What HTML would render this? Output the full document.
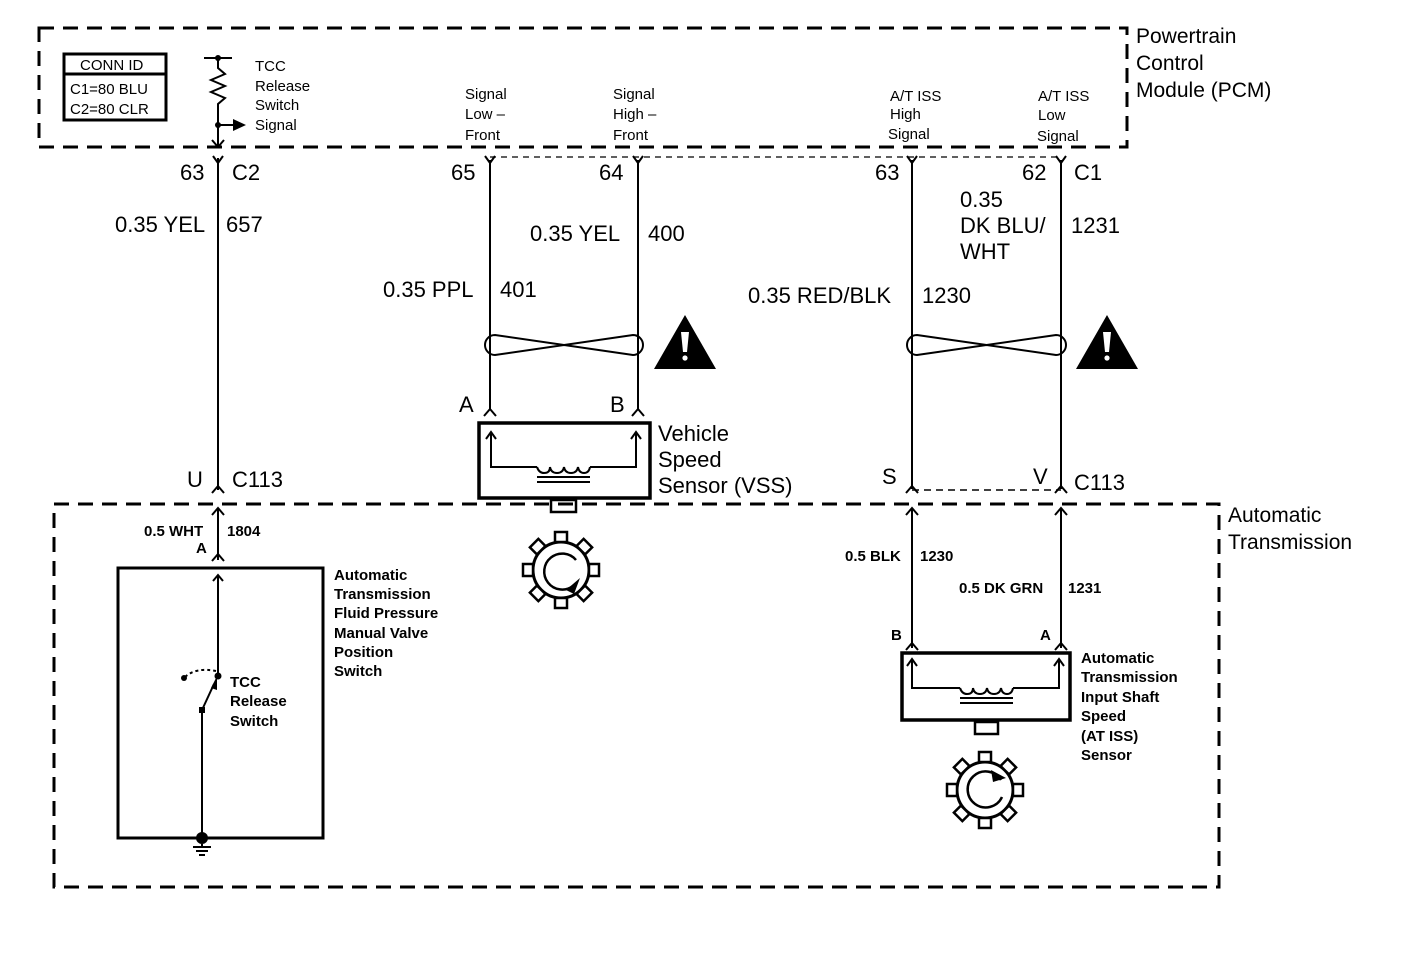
<!DOCTYPE html>
<html><head><meta charset="utf-8"><style>
html,body{margin:0;padding:0;background:#fff;}
svg{display:block;}
text{font-family:"Liberation Sans",Arial,sans-serif;fill:#000;}
.b{font-size:22px;}
.s{font-size:15px;}
.sb{font-size:15px;font-weight:bold;}
</style></head><body>
<svg width="1408" height="970" viewBox="0 0 1408 970" xmlns="http://www.w3.org/2000/svg">
<defs>
<g id="gear">
  <circle cx="0" cy="0" r="28" fill="none" stroke="#000" stroke-width="3"/>
  <g fill="#fff" stroke="#000" stroke-width="2.5">
    <rect x="-6" y="-38" width="12" height="10" transform="rotate(0)"/>
    <rect x="-6" y="-38" width="12" height="10" transform="rotate(45)"/>
    <rect x="-6" y="-38" width="12" height="10" transform="rotate(90)"/>
    <rect x="-6" y="-38" width="12" height="10" transform="rotate(135)"/>
    <rect x="-6" y="-38" width="12" height="10" transform="rotate(180)"/>
    <rect x="-6" y="-38" width="12" height="10" transform="rotate(225)"/>
    <rect x="-6" y="-38" width="12" height="10" transform="rotate(270)"/>
    <rect x="-6" y="-38" width="12" height="10" transform="rotate(315)"/>
  </g>
</g>
</defs>

<!-- PCM dashed box -->
<rect x="39" y="28" width="1088" height="119" fill="none" stroke="#000" stroke-width="3" stroke-dasharray="15,9"/>
<text class="b" x="1136" y="43" style="font-size:21px">Powertrain</text>
<text class="b" x="1136" y="70" style="font-size:21px">Control</text>
<text class="b" x="1136" y="97" style="font-size:21px">Module (PCM)</text>

<!-- Conn ID -->
<rect x="64" y="54" width="102" height="66" fill="none" stroke="#000" stroke-width="3"/>
<line x1="64" y1="74" x2="166" y2="74" stroke="#000" stroke-width="3"/>
<text class="s" x="80" y="70">CONN ID</text>
<text class="s" x="70" y="94">C1=80 BLU</text>
<text class="s" x="70" y="114">C2=80 CLR</text>

<!-- TCC resistor -->
<line x1="204" y1="58" x2="232" y2="58" stroke="#000" stroke-width="2"/>
<circle cx="218" cy="58" r="3"/>
<polyline points="218,58 218,68 225,74 211,80 225,86 211,92 225,98 218,104 218,146" fill="none" stroke="#000" stroke-width="2"/>
<circle cx="218" cy="125" r="3"/>
<line x1="218" y1="125" x2="235" y2="125" stroke="#000" stroke-width="2"/>
<polygon points="233,119 246,125 233,131"/>
<polyline points="212,140 218,147 224,140" fill="none" stroke="#000" stroke-width="2"/>
<text class="s" x="255" y="71">TCC</text>
<text class="s" x="255" y="91">Release</text>
<text class="s" x="255" y="110">Switch</text>
<text class="s" x="255" y="130">Signal</text>

<!-- top labels -->
<text class="s" x="465" y="99">Signal</text>
<text class="s" x="465" y="119">Low –</text>
<text class="s" x="465" y="140">Front</text>
<text class="s" x="613" y="99">Signal</text>
<text class="s" x="613" y="119">High –</text>
<text class="s" x="613" y="140">Front</text>
<text class="s" x="890" y="101">A/T ISS</text>
<text class="s" x="890" y="119">High</text>
<text class="s" x="888" y="139">Signal</text>
<text class="s" x="1038" y="101">A/T ISS</text>
<text class="s" x="1038" y="120">Low</text>
<text class="s" x="1037" y="141">Signal</text>

<!-- thin dashed connector lines -->
<line x1="490" y1="157" x2="1061" y2="157" stroke="#000" stroke-width="1.2" stroke-dasharray="6,5"/>
<line x1="912" y1="490" x2="1061" y2="490" stroke="#000" stroke-width="1.5" stroke-dasharray="7,5"/>

<!-- upper wires -->
<g stroke="#000" stroke-width="2" fill="none">
<line x1="218" y1="158" x2="218" y2="490"/>
<line x1="490" y1="160" x2="490" y2="410"/>
<line x1="638" y1="160" x2="638" y2="410"/>
<line x1="912" y1="160" x2="912" y2="489"/>
<line x1="1061" y1="160" x2="1061" y2="489"/>
<!-- Y connectors -->
<polyline points="213,156 218,163 223,156"/>
<polyline points="485,156 490,163 495,156"/>
<polyline points="633,156 638,163 643,156"/>
<polyline points="907,156 912,163 917,156"/>
<polyline points="1056,156 1061,163 1066,156"/>
<!-- caret bottoms -->
<polyline points="212,493 218,486 224,493"/>
<polyline points="484,416 490,409 496,416"/>
<polyline points="632,416 638,409 644,416"/>
<polyline points="906,493 912,486 918,493"/>
<polyline points="1055,493 1061,486 1067,493"/>
</g>

<text class="b" x="180" y="180">63</text>
<text class="b" x="232" y="180">C2</text>
<text class="b" x="451" y="180">65</text>
<text class="b" x="599" y="180">64</text>
<text class="b" x="875" y="180">63</text>
<text class="b" x="1022" y="180">62</text>
<text class="b" x="1074" y="180">C1</text>

<text class="b" x="115" y="232">0.35 YEL</text>
<text class="b" x="226" y="232">657</text>
<text class="b" x="530" y="241">0.35 YEL</text>
<text class="b" x="648" y="241">400</text>
<text class="b" x="383" y="297">0.35 PPL</text>
<text class="b" x="500" y="297">401</text>
<text class="b" x="748" y="303">0.35 RED/BLK</text>
<text class="b" x="922" y="303">1230</text>
<text class="b" x="960" y="207">0.35</text>
<text class="b" x="960" y="233">DK BLU/</text>
<text class="b" x="960" y="259">WHT</text>
<text class="b" x="1071" y="233">1231</text>

<!-- twisted pairs -->
<g stroke="#000" stroke-width="2" fill="none">
<path d="M495,335 Q564,345 633,355 A10,10 0 0 0 633,335 Q564,345 495,355 A10,10 0 0 1 495,335 Z"/>
<path d="M917,335 Q986,345 1056,355 A10,10 0 0 0 1056,335 Q986,345 917,355 A10,10 0 0 1 917,335 Z"/>
</g>
<!-- warning triangles -->
<polygon points="685,315 716,369 654,369"/>
<path d="M681,332 L689,332 L687,352 L683,352 Z" fill="#fff"/>
<circle cx="685" cy="358" r="2.6" fill="#fff"/>
<polygon points="1107,315 1138,369 1076,369"/>
<path d="M1103,332 L1111,332 L1109,352 L1105,352 Z" fill="#fff"/>
<circle cx="1107" cy="358" r="2.6" fill="#fff"/>

<text class="b" x="459" y="412">A</text>
<text class="b" x="610" y="412">B</text>

<!-- VSS -->
<rect x="479" y="423" width="171" height="75" fill="none" stroke="#000" stroke-width="3.5"/>
<polyline points="491,434 491,467 537,467" fill="none" stroke="#000" stroke-width="2"/>
<polyline points="590,467 636,467 636,434" fill="none" stroke="#000" stroke-width="2"/>
<polyline points="486,439 491,432 496,439" fill="none" stroke="#000" stroke-width="2"/>
<polyline points="631,439 636,432 641,439" fill="none" stroke="#000" stroke-width="2"/>
<path d="M537,467 q2,6 7,6 q6,0 6,-6 q1,6 7,6 q6,0 7,-6 q1,6 7,6 q6,0 7,-6 q1,6 6,6 q5,0 6,-6" fill="none" stroke="#000" stroke-width="2"/>
<line x1="537" y1="477" x2="590" y2="477" stroke="#000" stroke-width="2"/>
<line x1="537" y1="482" x2="590" y2="482" stroke="#000" stroke-width="2"/>
<rect x="551" y="500" width="25" height="12" fill="#fff" stroke="#000" stroke-width="2.5"/>
<text class="b" x="658" y="441">Vehicle</text>
<text class="b" x="658" y="467">Speed</text>
<text class="b" x="658" y="493">Sensor (VSS)</text>
<use href="#gear" x="561" y="570"/>
<path d="M573,586 A18,18 0 1 1 576,560" fill="none" stroke="#000" stroke-width="2.5" transform="rotate(0)"/>
<polygon points="566,590 580,578 574,594"/>

<text class="b" x="187" y="487">U</text>
<text class="b" x="232" y="487">C113</text>
<text class="b" x="882" y="484">S</text>
<text class="b" x="1033" y="484">V</text>
<text class="b" x="1074" y="490">C113</text>

<!-- AT dashed box -->
<rect x="54" y="504" width="1165" height="383" fill="none" stroke="#000" stroke-width="3" stroke-dasharray="15,9"/>
<text class="b" x="1228" y="522" style="font-size:21px">Automatic</text>
<text class="b" x="1228" y="549" style="font-size:21px">Transmission</text>

<!-- lower left -->
<g stroke="#000" stroke-width="2" fill="none">
<line x1="218" y1="508" x2="218" y2="560"/>
<polyline points="212,515 218,508 224,515"/>
<polyline points="212,561 218,554 224,561"/>
<line x1="218" y1="575" x2="218" y2="676"/>
<polyline points="213,581 218,575 223,581"/>
<line x1="202" y1="710" x2="202" y2="838"/>
<line x1="202" y1="710" x2="214" y2="684"/>
<path d="M185,677 Q196,667 216,671" stroke-dasharray="3,3"/>
</g>
<rect x="199" y="707" width="6" height="6"/>
<circle cx="218" cy="676" r="3.5"/>
<circle cx="184" cy="678" r="3"/>
<polygon points="211,688 217,676 217,690"/>
<rect x="118" y="568" width="205" height="270" fill="none" stroke="#000" stroke-width="3"/>
<circle cx="202" cy="838" r="6"/>
<line x1="193" y1="847" x2="211" y2="847" stroke="#000" stroke-width="2"/>
<line x1="196" y1="851" x2="208" y2="851" stroke="#000" stroke-width="2"/>
<line x1="199" y1="855" x2="205" y2="855" stroke="#000" stroke-width="2"/>
<line x1="202" y1="844" x2="202" y2="847" stroke="#000" stroke-width="2"/>
<text class="sb" x="144" y="536">0.5 WHT</text>
<text class="sb" x="227" y="536">1804</text>
<text class="sb" x="196" y="553">A</text>
<text class="sb" x="230" y="687">TCC</text>
<text class="sb" x="230" y="706">Release</text>
<text class="sb" x="230" y="726">Switch</text>
<text class="sb" x="334" y="580">Automatic</text>
<text class="sb" x="334" y="599">Transmission</text>
<text class="sb" x="334" y="618">Fluid Pressure</text>
<text class="sb" x="334" y="638">Manual Valve</text>
<text class="sb" x="334" y="657">Position</text>
<text class="sb" x="334" y="676">Switch</text>

<!-- lower right -->
<g stroke="#000" stroke-width="2" fill="none">
<line x1="912" y1="508" x2="912" y2="648"/>
<line x1="1061" y1="508" x2="1061" y2="648"/>
<polyline points="906,515 912,508 918,515"/>
<polyline points="1055,515 1061,508 1067,515"/>
<polyline points="906,650 912,643 918,650"/>
<polyline points="1055,650 1061,643 1067,650"/>
</g>
<text class="sb" x="845" y="561">0.5 BLK</text>
<text class="sb" x="920" y="561">1230</text>
<text class="sb" x="959" y="593">0.5 DK GRN</text>
<text class="sb" x="1068" y="593">1231</text>
<text class="sb" x="891" y="640">B</text>
<text class="sb" x="1040" y="640">A</text>

<rect x="902" y="653" width="168" height="67" fill="none" stroke="#000" stroke-width="3.5"/>
<polyline points="912,661 912,688 960,688" fill="none" stroke="#000" stroke-width="2"/>
<polyline points="1013,688 1059,688 1059,661" fill="none" stroke="#000" stroke-width="2"/>
<polyline points="907,666 912,659 917,666" fill="none" stroke="#000" stroke-width="2"/>
<polyline points="1054,666 1059,659 1064,666" fill="none" stroke="#000" stroke-width="2"/>
<path d="M960,688 q2,6 7,6 q6,0 6,-6 q1,6 7,6 q6,0 7,-6 q1,6 7,6 q6,0 7,-6 q1,6 6,6 q5,0 6,-6" fill="none" stroke="#000" stroke-width="2"/>
<line x1="960" y1="698" x2="1013" y2="698" stroke="#000" stroke-width="2"/>
<line x1="960" y1="703" x2="1013" y2="703" stroke="#000" stroke-width="2"/>
<rect x="975" y="722" width="23" height="12" fill="#fff" stroke="#000" stroke-width="2.5"/>
<use href="#gear" x="985" y="790"/>
<path d="M1001,780 A18,18 0 1 0 1002,797" fill="none" stroke="#000" stroke-width="2.5"/>
<polygon points="991,770 1006,778 993,782"/>
<text class="sb" x="1081" y="663">Automatic</text>
<text class="sb" x="1081" y="682">Transmission</text>
<text class="sb" x="1081" y="702">Input Shaft</text>
<text class="sb" x="1081" y="721">Speed</text>
<text class="sb" x="1081" y="741">(AT ISS)</text>
<text class="sb" x="1081" y="760">Sensor</text>
</svg>
</body></html>
